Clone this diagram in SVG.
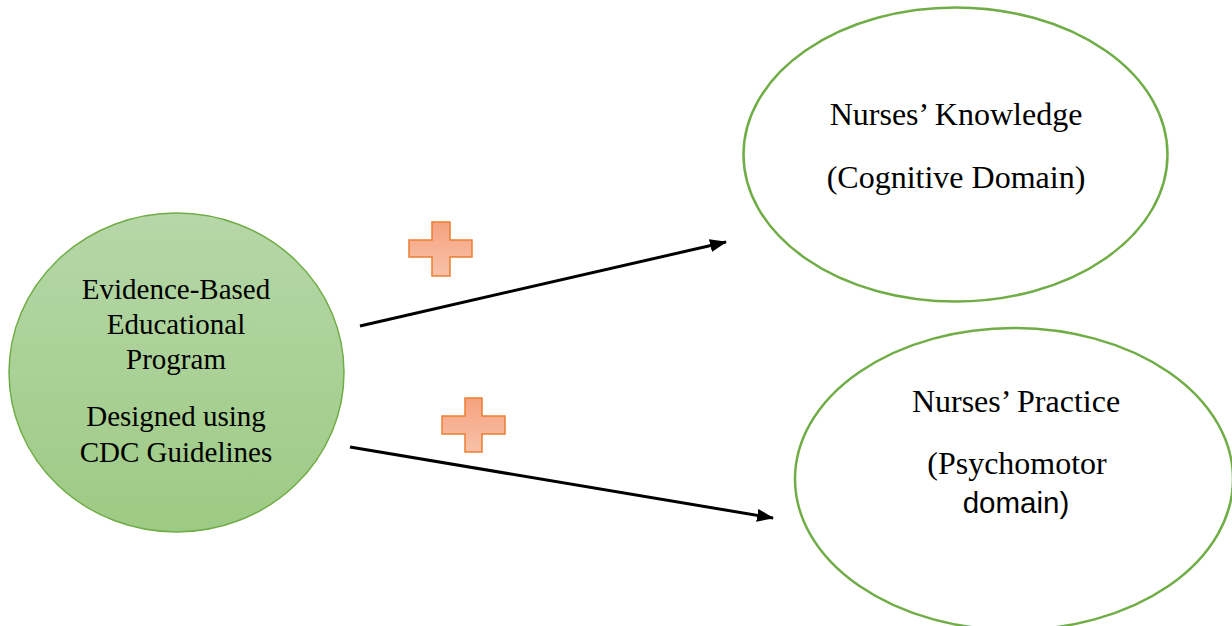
<svg xmlns="http://www.w3.org/2000/svg" width="1232" height="626" viewBox="0 0 1232 626">
<defs>
<linearGradient id="gGreen" x1="0" y1="0" x2="0" y2="1">
<stop offset="0" stop-color="#b6d7a8"/>
<stop offset="1" stop-color="#9dca84"/>
</linearGradient>
<linearGradient id="gOrange" x1="0" y1="0" x2="0" y2="1">
<stop offset="0" stop-color="#f5a27f"/>
<stop offset="1" stop-color="#f8c2a8"/>
</linearGradient>
<marker id="arr" markerWidth="17" markerHeight="13" refX="16" refY="6.5" orient="auto" markerUnits="userSpaceOnUse">
<path d="M0,0 L17,6.5 L0,13 Z" fill="#000"/>
</marker>
</defs>
<style>
.serif{font-family:"Liberation Serif","Times New Roman",serif;font-size:29px;fill:#000;text-anchor:middle}
.big{font-size:32px}
.sans{font-family:"Liberation Sans",Arial,sans-serif;font-size:29.5px;fill:#000;text-anchor:middle}
.oval{fill:#fff;stroke:#70ad47;stroke-width:2.5}
.plus{fill:url(#gOrange);stroke:#ed7d31;stroke-width:1.5}
.conn{stroke:#000;stroke-width:3;fill:none;marker-end:url(#arr)}
</style>
<rect width="1232" height="626" fill="#fff"/>
<g id="program">
<ellipse cx="176.5" cy="372.5" rx="167.5" ry="159.5" fill="url(#gGreen)" stroke="#70ad47" stroke-width="1.5"/>
<text class="serif" x="176" y="299">Evidence-Based</text>
<text class="serif" x="176" y="334">Educational</text>
<text class="serif" x="176" y="369">Program</text>
<text class="serif" x="176" y="426">Designed using</text>
<text class="serif" x="176" y="462">CDC Guidelines</text>
</g>
<g id="knowledge">
<ellipse class="oval" cx="955.5" cy="154.5" rx="212" ry="147"/>
<text class="serif big" x="956" y="125">Nurses’ Knowledge</text>
<text class="serif big" x="956" y="188">(Cognitive Domain)</text>
</g>
<g id="practice">
<ellipse class="oval" cx="1014" cy="479" rx="219" ry="151"/>
<text class="serif big" x="1016" y="412">Nurses’ Practice</text>
<text class="serif big" x="1017" y="474">(Psychomotor</text>
<text class="sans" x="1016" y="513">domain)</text>
</g>
<g id="plus1">
<path class="plus" d="M432,222 H450 V240 H472 V257 H450 V276 H432 V257 H409 V240 H432 Z"/>
</g>
<g id="plus2">
<path class="plus" d="M465,398 H482 V416 H505 V434 H482 V452 H465 V434 H442 V416 H465 Z"/>
</g>
<g id="connectors">
<line class="conn" x1="360" y1="326" x2="726" y2="242"/>
<line class="conn" x1="350" y1="447" x2="773" y2="518"/>
</g>
</svg>
